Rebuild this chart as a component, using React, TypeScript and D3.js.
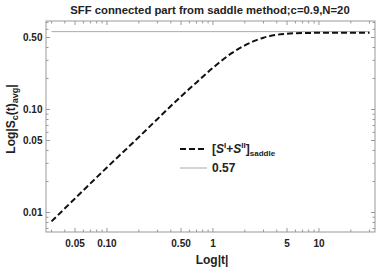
import React from "react";
import * as d3 from "d3";

// values
const tValues = [0.03, 0.05, 0.1, 0.2, 0.3, 0.5, 0.7, 1, 1.5, 2, 2.5, 3, 4, 5, 7, 10, 15, 20, 30];
const sValues = [0.0082, 0.0137, 0.0274, 0.054, 0.081, 0.134, 0.183, 0.254, 0.352, 0.419, 0.466, 0.498, 0.531, 0.544, 0.552, 0.555, 0.556, 0.556, 0.556];
const refLevel = 0.57;
const refRange = [0.03, 30];

const xMajor = [0.05, 0.1, 0.5, 1, 5, 10];
const xMajorLabels = ["0.05", "0.10", "0.50", "1", "5", "10"];
const xMinor = [0.03, 0.04, 0.06, 0.07, 0.08, 0.09, 0.2, 0.3, 0.4, 0.6, 0.7, 0.8, 0.9, 2, 3, 4, 6, 7, 8, 9, 20, 30];
const yMajor = [0.01, 0.05, 0.1, 0.5];
const yMajorLabels = ["0.01", "0.05", "0.10", "0.50"];
const yMinor = [0.007, 0.008, 0.009, 0.02, 0.03, 0.04, 0.06, 0.07, 0.08, 0.09, 0.2, 0.3, 0.4, 0.6, 0.7];

const W = 382;
const H = 273;
const left = 46;
const right = 375;
const top = 21;
const bottom = 232;
const frameColor = "#999";
const font = "'Liberation Sans', Arial, sans-serif";

const App: React.FC = () => {
  const x = d3.scaleLog().domain([0.0266, 33.8]).range([left, right]);
  const y = d3.scaleLog().domain([0.00647, 0.723]).range([bottom, top]);

  const line = d3
    .line<number>()
    .x((_, i) => x(tValues[i]))
    .y((d) => y(d))
    .curve(d3.curveMonotoneX);

  const majorLen = 4;
  const minorLen = 2.5;

  return (
    <svg width={W} height={H} style={{ position: "absolute", left: 0, top: 0 }} fontFamily={font}>
      <rect width={W} height={H} fill="#fff" />
      <text x={210} y={14} textAnchor="middle" fontSize={11.3} fontWeight="bold" fill="#222">
        SFF connected part from saddle method;c=0.9,N=20
      </text>

      {/* frame */}
      <rect x={left} y={top} width={right - left} height={bottom - top} fill="none" stroke={frameColor} strokeWidth={1} />

      {/* x ticks */}
      {xMajor.map((t, i) => (
        <g key={"xm" + i}>
          <line x1={x(t)} x2={x(t)} y1={bottom} y2={bottom - majorLen} stroke={frameColor} />
          <line x1={x(t)} x2={x(t)} y1={top} y2={top + majorLen} stroke={frameColor} />
          <text x={x(t)} y={247} textAnchor="middle" fontSize={10} fontWeight="bold" fill="#222">
            {xMajorLabels[i]}
          </text>
        </g>
      ))}
      {xMinor.map((t, i) => (
        <g key={"xn" + i}>
          <line x1={x(t)} x2={x(t)} y1={bottom} y2={bottom - minorLen} stroke={frameColor} />
          <line x1={x(t)} x2={x(t)} y1={top} y2={top + minorLen} stroke={frameColor} />
        </g>
      ))}

      {/* y ticks */}
      {yMajor.map((v, i) => (
        <g key={"ym" + i}>
          <line x1={left} x2={left + majorLen} y1={y(v)} y2={y(v)} stroke={frameColor} />
          <line x1={right} x2={right - majorLen} y1={y(v)} y2={y(v)} stroke={frameColor} />
          <text x={42.5} y={y(v) + 3.6} textAnchor="end" fontSize={10} fontWeight="bold" fill="#222">
            {yMajorLabels[i]}
          </text>
        </g>
      ))}
      {yMinor.map((v, i) => (
        <g key={"yn" + i}>
          <line x1={left} x2={left + minorLen} y1={y(v)} y2={y(v)} stroke={frameColor} />
          <line x1={right} x2={right - minorLen} y1={y(v)} y2={y(v)} stroke={frameColor} />
        </g>
      ))}

      {/* reference line */}
      <line
        x1={x(refRange[0])}
        x2={x(refRange[1])}
        y1={y(refLevel)}
        y2={y(refLevel)}
        stroke="#aaa"
        strokeWidth={1}
      />

      {/* curve */}
      <path d={line(sValues) || ""} fill="none" stroke="#111" strokeWidth={2} strokeDasharray="6,3" />

      {/* axis labels */}
      <text x={212} y={264} textAnchor="middle" fontSize={12} fontWeight="bold" fill="#222">
        Log|t|
      </text>
      <text
        transform="translate(15,119) rotate(-90)"
        textAnchor="middle"
        fontSize={12}
        fontWeight="bold"
        fill="#222"
      >
        Log|S<tspan fontSize={9} dy={3}>c</tspan>
        <tspan dy={-3}>(t)</tspan>
        <tspan fontSize={9} dy={3}>avg</tspan>
        <tspan dy={-3}>|</tspan>
      </text>

      {/* legend */}
      <line x1={180} x2={207} y1={149} y2={149} stroke="#111" strokeWidth={2} strokeDasharray="6,3" />
      <text x={212} y={153} fontSize={12} fontWeight="bold" fill="#222">
        [<tspan fontStyle="italic">S</tspan>
        <tspan fontSize={8} dy={-5}>I</tspan>
        <tspan dy={5}>+</tspan>
        <tspan fontStyle="italic">S</tspan>
        <tspan fontSize={8} dy={-5}>II</tspan>
        <tspan dy={5}>]</tspan>
        <tspan fontSize={8} dy={3}>saddle</tspan>
      </text>
      <line x1={180} x2={207} y1={168} y2={168} stroke="#aaa" strokeWidth={1} />
      <text x={212} y={172} fontSize={12} fontWeight="bold" fill="#222">
        0.57
      </text>
    </svg>
  );
};

export default App;
